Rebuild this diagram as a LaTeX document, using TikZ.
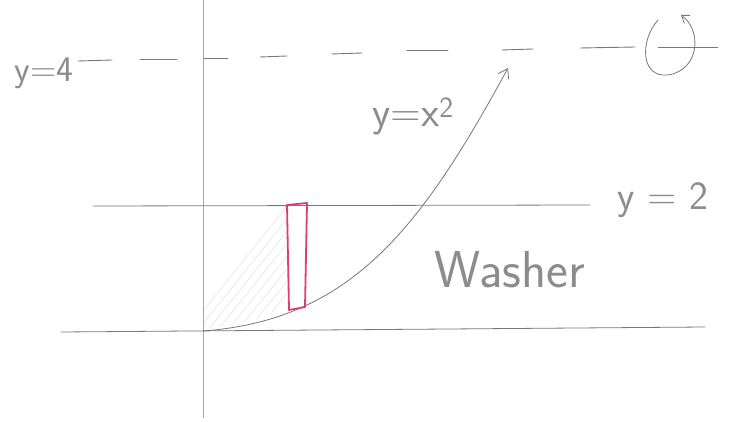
\documentclass[tikz,border=0pt]{standalone}
\usetikzlibrary{arrows.meta}
\definecolor{pencil}{RGB}{120,120,120}
\definecolor{pencillight}{RGB}{165,165,165}
\definecolor{marker}{RGB}{225,60,110}
\tikzset{
  pen/.style={draw=pencil, line width=0.8pt, line cap=round},
  axisline/.style={draw=pencillight, line width=0.8pt},
  hand/.style={text=pencil!85, font=\sffamily},
  dashseg/.style={draw=pencil, line width=0.9pt, line cap=round},
}
\begin{document}
\begin{tikzpicture}[x=1pt,y=-1pt]
\useasboundingbox (0,0) rectangle (730,422);
\fill[white] (0,0) rectangle (730,422);
% faint hatching left of the strip
\begin{scope}
  \clip (204,207) -- (287,206) -- (287,306) -- (260,318) -- (230,326) -- (204,329) -- cycle;
  \foreach \k in {0,10,...,220} {
    \draw[pencillight!40, line width=0.4pt] (180+\k,340) -- (300+\k,190);
  }
\end{scope}
% axes
\draw[axisline] (203,0) -- (203,418);
\draw[pen] (61,332) -- (705,327);
% y = 2 line
\draw[pen] (93,206) -- (590,205);
% y = 4 dashed line
\foreach \a/\b/\ya/\yb in {78/112/61/60, 140/177/59/59, 204/228/58/58, 260/287/57/56, 332/362/54/53, 407/448/50/50, 502/533/50/49, 580/635/48/47, 658/718/47/47}{
  \draw[dashseg] (\a,\ya) -- (\b,\yb);
}
% rotation arrow
\draw[pen, -{Straight Barb[length=7pt,width=10pt]}] (658,20) .. controls (640,40) and (640,78) .. (668,75)
  .. controls (700,70) and (702,30) .. (681,15);
% parabola
\draw[pen, -{Straight Barb[length=9pt,width=12pt]}] (203,331) .. controls (350,320) and (420,230) .. (508,68);
% pink strip
\draw[draw=marker, line width=1.8pt, line join=round] (287,205) -- (307,203) -- (305,307) -- (289,310) -- cycle;
% labels
\node[hand, font=\sffamily\fontsize{36}{40}\selectfont, anchor=base] (l4) at (44,82) {y=4};
\node[hand, font=\sffamily\fontsize{42}{46}\selectfont, anchor=base] (lx) at (413,127) {y=x\textsuperscript{2}};
\node[hand, font=\sffamily\fontsize{40}{44}\selectfont, anchor=base] (l2) at (663,209) {y = 2};
\node[hand, font=\sffamily\fontsize{52}{56}\selectfont, anchor=base] (lw) at (510,287) {Washer};
\end{tikzpicture}
\end{document}
